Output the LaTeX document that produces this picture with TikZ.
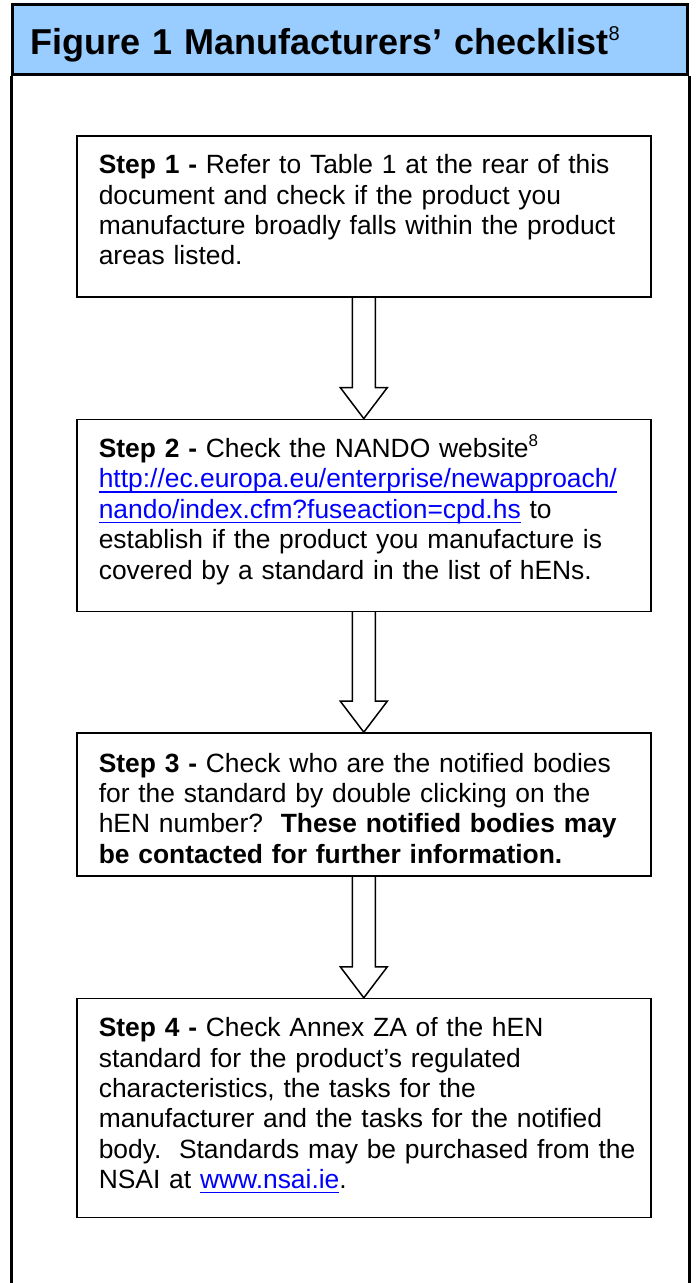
\documentclass[tikz,border=0pt]{standalone}
\usepackage{fontspec}
\setmainfont{Liberation Sans}
\usetikzlibrary{positioning,calc}
\definecolor{headblue}{RGB}{153,204,255}
\definecolor{linkblue}{RGB}{0,0,255}
\frenchspacing
\newcommand{\weblink}[1]{\textcolor{linkblue}{\setbox0\hbox{#1}\rlap{\rule[-2.4pt]{\wd0}{0.6pt}}\box0}}
\newcommand{\smallsup}[1]{\raisebox{5.5pt}{\fontsize{8.5pt}{9pt}\selectfont\mdseries #1}}
\tikzset{stepbox/.style={draw,line width=0.8pt,text width=278pt,inner xsep=4.5pt,inner ysep=0pt,
		text height=19pt,align=left,font=\fontsize{13.2pt}{15.2pt}\selectfont,
		execute at begin node={\leftskip=6.5pt\rightskip=0pt plus 2em minus 5pt}},
	headbox/.style={draw,line width=1.5pt,fill=headblue,minimum width=337.5pt,minimum height=35pt,
		text width=319.5pt,inner xsep=9pt,align=left,text height=15.5pt,text depth=0pt,
		font=\fontsize{18pt}{20pt}\selectfont\bfseries},
	blockarrow/.style={draw,line width=0.75pt,line join=miter},
	frame/.style={draw,line width=1.5pt}
}

\begin{document}
\begin{tikzpicture}[x=0.5pt,y=-0.5pt]
	\useasboundingbox (0,0) rectangle (695,1283);
	\coordinate (bottom) at (0,1283);
	
	\node[headbox,anchor=north west] (head) at (11,3) {Figure 1 Manufacturers’ checklist\raisebox{7pt}{\fontsize{10pt}{10pt}\selectfont\mdseries 8}};
	\draw[frame] (head.south west) -- (head.south west |- bottom);
	\draw[frame] (head.south east) -- (head.south east |- bottom);
	
	\node[stepbox,text depth=61.5pt,anchor=north west] (s1) at (76,135)
	{\textbf{Step 1 -} Refer to Table 1 at the rear of this\\
		document and check if the product you\\
		manufacture broadly falls within the product\\
		areas listed.};
	\node[stepbox,text depth=77pt] (s2) [below=60.5pt of s1]
	{\textbf{Step 2 -} Check the NANDO website\smallsup{8}\\
		\weblink{http://ec.europa.eu/enterprise/newapproach/}\\
		\weblink{nando/index.cfm?fuseaction=cpd.hs} to\\
		establish if the product you manufacture is\\
		covered by a standard in the list of hENs.};
	\node[stepbox,text height=19.5pt,text depth=52pt] (s3) [below=60pt of s2]
	{\textbf{Step 3 -} Check who are the notified bodies\\
		for the standard by double clicking on the\\
		hEN number?~ \textbf{These notified bodies may}\\
		\textbf{be contacted for further information.}};
	\node[stepbox,text depth=90.5pt] (s4) [below=60.5pt of s3]
	{\textbf{Step 4 -} Check Annex ZA of the hEN\\
		standard for the product’s regulated\\
		characteristics, the tasks for the\\
		manufacturer and the tasks for the notified\\
		body.~ Standards may be purchased from the\\
		NSAI at \weblink{www.nsai.ie}.};
	
	\foreach \a/\b in {s1/s2,s2/s3,s3/s4}
	\draw[blockarrow] ($(\a.south)+(-5.75pt,0)$) -- ($(\b.north)+(-5.75pt,15.5pt)$) -- ++(-6pt,0)
	-- (\b.north) -- ++(11.75pt,15.5pt) -- ++(-6pt,0) -- ($(\a.south)+(5.75pt,0)$);
	
\end{tikzpicture}
\end{document}
